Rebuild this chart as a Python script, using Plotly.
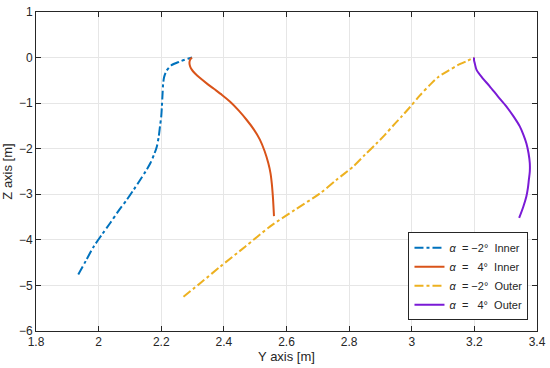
import plotly.graph_objects as go

# α = −2° Inner
inner_m2_y = [1.935, 1.960, 1.984, 2.010, 2.037, 2.063, 2.090, 2.112, 2.133, 2.150, 2.165, 2.177, 2.186, 2.192, 2.196, 2.200, 2.202, 2.204, 2.206, 2.209, 2.216, 2.232, 2.258, 2.285, 2.298]
inner_m2_z = [-4.76, -4.45, -4.15, -3.89, -3.63, -3.37, -3.12, -2.90, -2.68, -2.50, -2.32, -2.13, -1.95, -1.73, -1.51, -1.29, -1.07, -0.82, -0.58, -0.43, -0.30, -0.17, -0.09, -0.025, 0.0]
# α = 4° Inner
inner_p4_y = [2.298, 2.292, 2.290, 2.292, 2.297, 2.308, 2.324, 2.344, 2.367, 2.394, 2.420, 2.447, 2.473, 2.496, 2.515, 2.530, 2.542, 2.549, 2.553, 2.557, 2.560]
inner_p4_z = [0.0, -0.05, -0.12, -0.19, -0.26, -0.35, -0.45, -0.56, -0.68, -0.82, -0.97, -1.16, -1.37, -1.58, -1.80, -2.05, -2.32, -2.54, -2.76, -3.10, -3.48]
# α = −2° Outer
outer_m2_y = [2.271, 2.330, 2.388, 2.468, 2.547, 2.627, 2.707, 2.760, 2.813, 2.851, 2.888, 2.915, 2.941, 2.968, 2.994, 3.026, 3.058, 3.084, 3.116, 3.153, 3.178, 3.199]
outer_m2_z = [-5.25, -4.92, -4.59, -4.15, -3.71, -3.34, -2.98, -2.68, -2.39, -2.13, -1.88, -1.69, -1.49, -1.29, -1.09, -0.83, -0.60, -0.43, -0.29, -0.145, -0.07, 0.0]
# α = 4° Outer
outer_p4_y = [3.199, 3.199, 3.201, 3.207, 3.226, 3.249, 3.275, 3.302, 3.325, 3.345, 3.357, 3.366, 3.373, 3.377, 3.377, 3.374, 3.371, 3.366, 3.356, 3.343]
outer_p4_z = [0.0, -0.06, -0.12, -0.27, -0.45, -0.63, -0.85, -1.07, -1.29, -1.51, -1.70, -1.88, -2.10, -2.32, -2.50, -2.68, -2.86, -3.05, -3.28, -3.52]

x_ticks = [1.8, 2.0, 2.2, 2.4, 2.6, 2.8, 3.0, 3.2, 3.4]
y_ticks = [1, 0, -1, -2, -3, -4, -5, -6]

names = [
    "<i>α</i>\u00a0\u00a0=\u00a0−2°\u00a0\u00a0Inner",
    "<i>α</i>\u00a0\u00a0=\u00a0\u00a0\u00a04°\u00a0\u00a0Inner",
    "<i>α</i>\u00a0\u00a0=\u00a0−2°\u00a0\u00a0Outer",
    "<i>α</i>\u00a0\u00a0=\u00a0\u00a0\u00a04°\u00a0\u00a0Outer",
]
colors = ["#0072BD", "#D95319", "#EDB120", "#7A1AD6"]
dashes = ["dashdot", "solid", "dashdot", "solid"]
series = [(inner_m2_y, inner_m2_z), (inner_p4_y, inner_p4_z),
          (outer_m2_y, outer_m2_z), (outer_p4_y, outer_p4_z)]

fig = go.Figure()
for (xs, zs), n, c, d in zip(series, names, colors, dashes):
    fig.add_trace(go.Scatter(x=xs, y=zs, mode="lines", name=n,
                             line=dict(color=c, width=2, dash=d, shape="spline", smoothing=0.8)))

font = "Liberation Sans, Arial, sans-serif"
axis_common = dict(
    showgrid=True, gridcolor="#E6E6E6", gridwidth=1,
    showline=True, linecolor="#262626", linewidth=1, mirror="ticks",
    ticks="inside", ticklen=5, tickcolor="#262626",
    tickfont=dict(family=font, size=12, color="#262626"),
    zeroline=False, automargin=False,
)
fig.update_layout(
    width=550, height=368,
    margin=dict(l=36, r=13, t=12, b=37),
    paper_bgcolor="white", plot_bgcolor="white",
    font=dict(family=font, color="#262626"),
    xaxis=dict(range=[1.8, 3.4], tickvals=x_ticks, ticktext=[("%g" % v) for v in x_ticks],
               title=dict(text="Y axis [m]", font=dict(size=13, color="#262626"), standoff=2),
               **axis_common),
    yaxis=dict(range=[-6, 1], tickvals=y_ticks, ticktext=[("%g" % v).replace("-", "−") for v in y_ticks],
               title=dict(text="Z axis [m]", font=dict(size=13, color="#262626"), standoff=4),
               **axis_common),
    legend=dict(x=0.983, y=0.172, xanchor="right", yanchor="middle",
                bgcolor="white", bordercolor="#262626", borderwidth=1,
                font=dict(family=font, size=11, color="#262626"),
                tracegroupgap=0, itemwidth=30),
    showlegend=True,
)
fig.write_html("out.html", config={"displayModeBar": False})

# remove the browser's default body margin so the figure sits at the page origin
with open("out.html", "r", encoding="utf-8") as f:
    html = f.read()
html = html.replace("<head>", "<head><style>html,body{margin:0;padding:0;overflow:hidden;}</style>", 1)
with open("out.html", "w", encoding="utf-8") as f:
    f.write(html)
